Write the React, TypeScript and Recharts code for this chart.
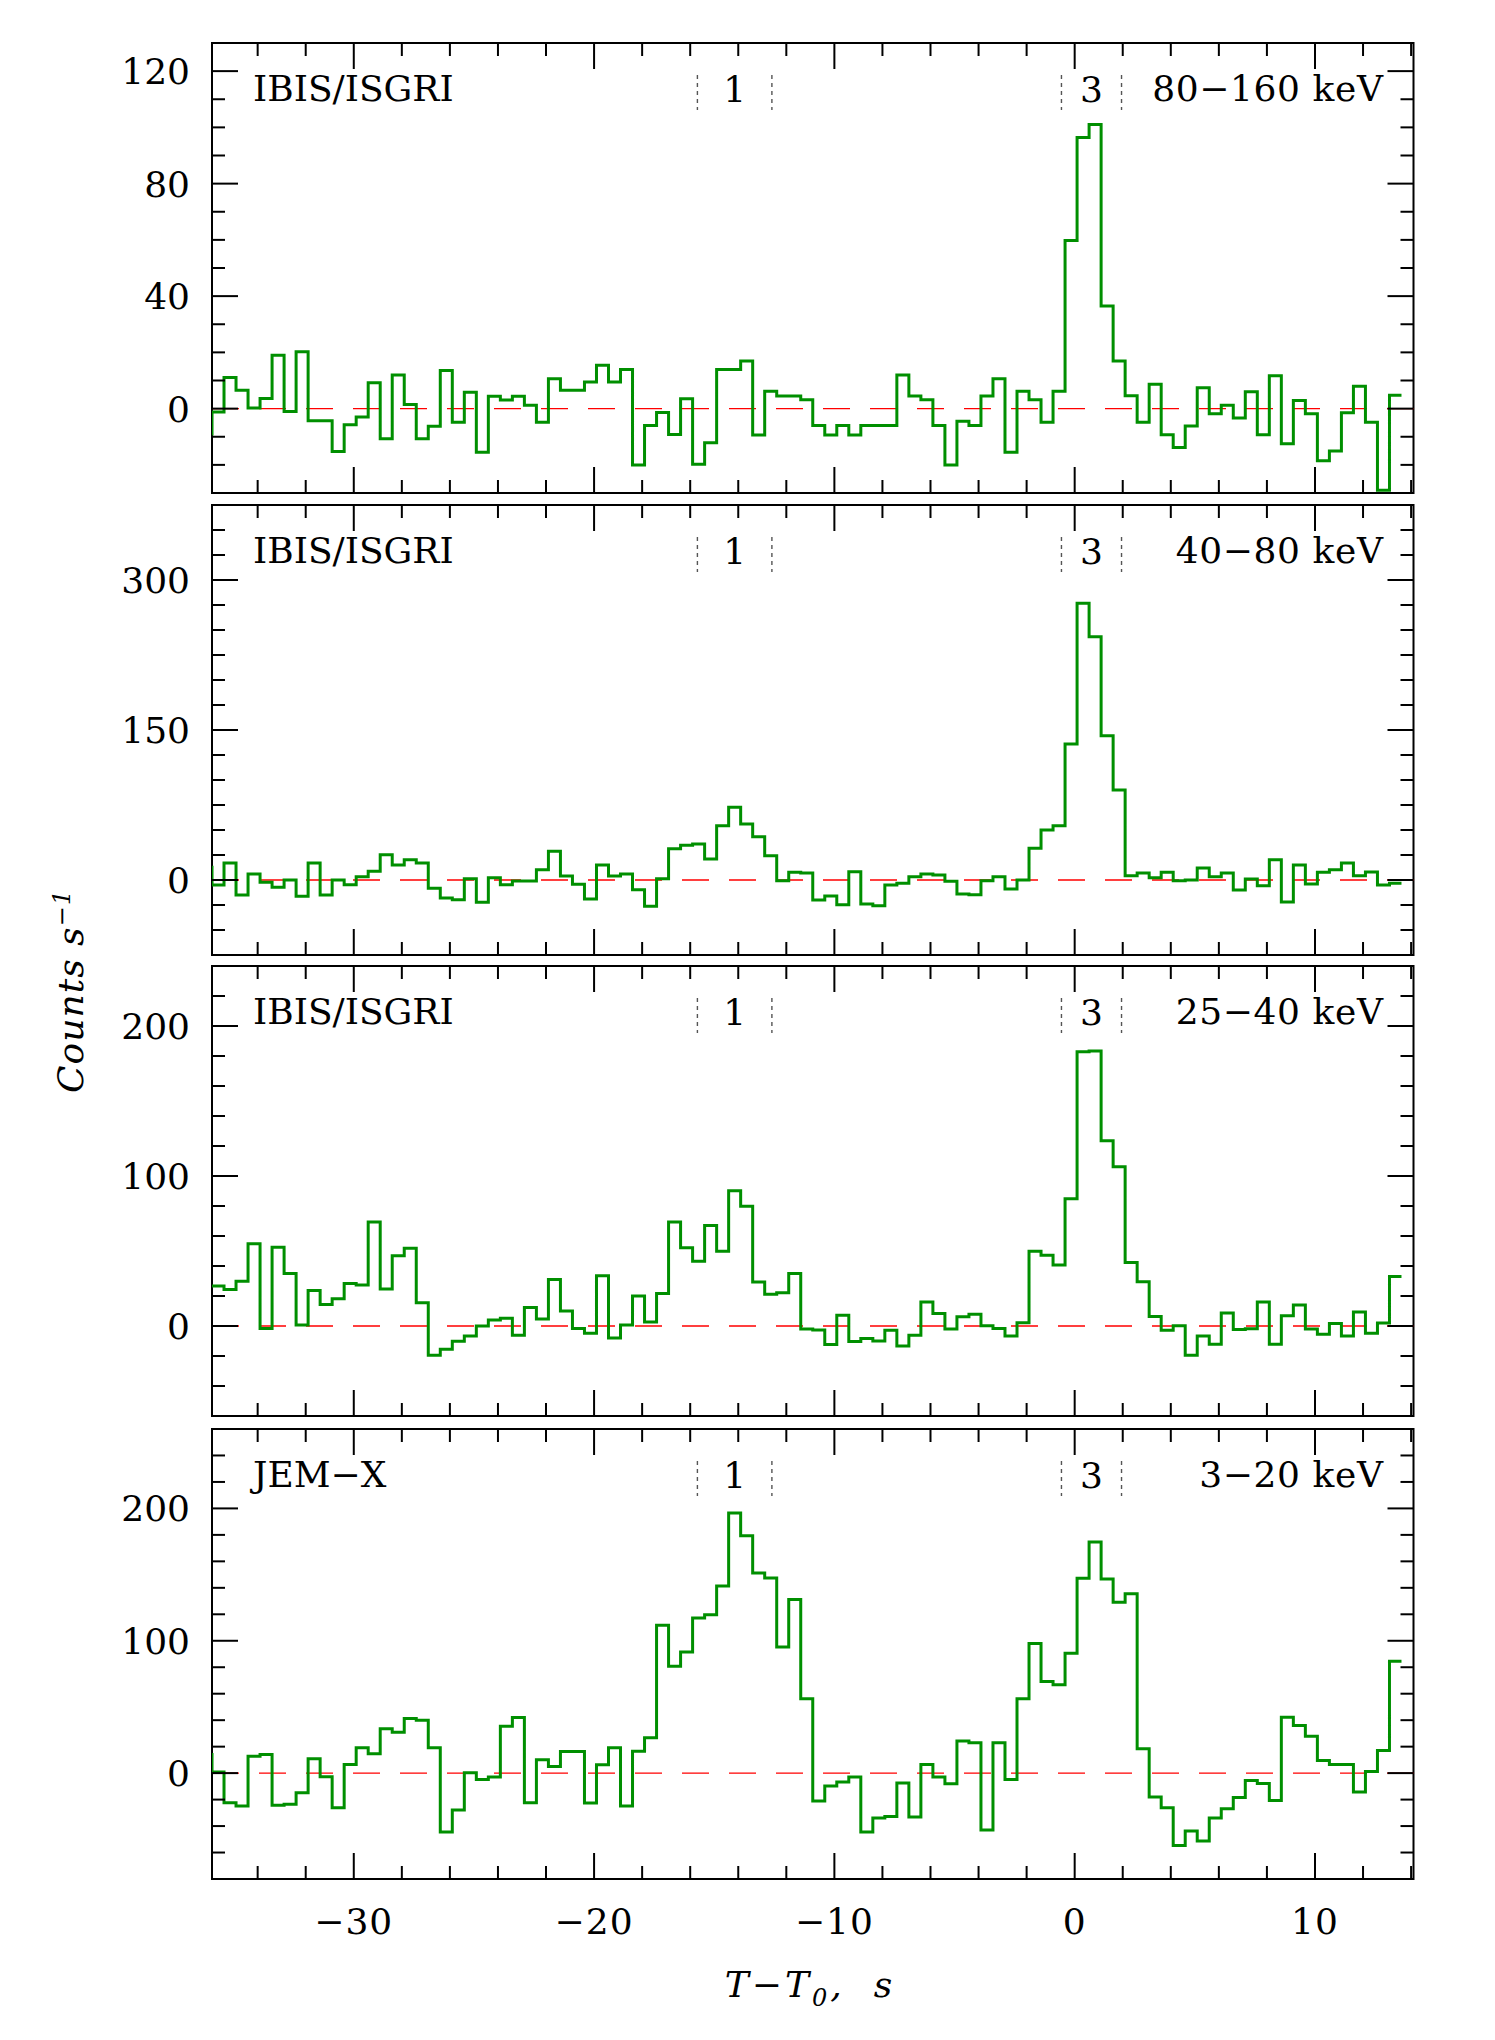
import React from 'react';
import { LineChart, Line, XAxis, YAxis, ReferenceLine, ReferenceArea } from 'recharts';

// ---------- data ----------
const BIN_START = -35.9; // left edge of first bin, s
const BIN_WIDTH = 0.5; // s

const X_DOMAIN = [-35.9, 14.1];
const X_TICKS = [-34, -32, -30, -28, -26, -24, -22, -20, -18, -16, -14, -12, -10, -8, -6, -4, -2, 0, 2, 4, 6, 8, 10, 12, 14];
const X_MAJOR = [-30, -20, -10, 0, 10];

// IBIS/ISGRI 80-160 keV
const ibis80to160Pre = -9;
const ibis80to160 = [
  -1.2, 11.1, 6.5, 0.2, 3.6, 19, -1, 20.2, -4.3, -4.3,
  -15.2, -5.7, -3, 9.2, -10.7, 12, 1.5, -10.7, -6.3, 13.6,
  -4.8, 5.8, -15.5, 4.4, 3.1, 4.4, 1.2, -4.8, 10.6, 6.5,
  6.5, 9.5, 15.4, 9.5, 13.9, -20, -6, -1.4, -9.2, 3.5,
  -19.8, -12.1, 13.9, 13.9, 16.9, -9.4, 6.2, 4.5, 4.5, 3.2,
  -6, -9.4, -6, -9.4, -6, -6, -6, 12, 4.5, 3.2,
  -6, -20, -4.5, -6, 4.5, 10.6, -15.5, 6.2, 3.2, -4.8,
  6.2, 59.8, 96.4, 101, 36.5, 16.9, 4.6, -4.8, 8.7, -9.3,
  -13.8, -6.2, 7.4, -1.8, 1.2, -3.3, 6, -9.3, 11.7, -12.5,
  2.9, -1.8, -18.5, -15.1, -1.5, 8, -4.8, -29, 4.8,
];
const Y1_DOMAIN = [-30, 130];
const Y1_TICKS = [-20, -10, 0, 10, 20, 30, 40, 50, 60, 70, 80, 90, 100, 110, 120];
const Y1_MAJOR = [0, 40, 80, 120];

// IBIS/ISGRI 40-80 keV
const ibis40to80Pre = 12.7;
const ibis40to80 = [
  -5, 17, -15, 6, -2.3, -7.3, 0, -16.3, 17, -15,
  0, -4.7, 3.3, 8.7, 25.3, 15, 20.3, 17, -8.3, -18,
  -19.7, 1.3, -22.3, 2.3, -4.7, -1, -1, 10.3, 28.7, 4,
  -4.3, -19, 15, 4, 6, -9.7, -26.3, 1.3, 31.3, 34.7,
  36, 21, 54.3, 72.7, 56, 43.3, 24.3, -0.7, 7.7, 7,
  -20, -16, -24.7, 8.3, -24, -25.7, -5, -3.3, 3.3, 6,
  5, -1.3, -14, -14.7, -0.7, 3.3, -9, 0, 31.7, 50,
  54.3, 136, 276.7, 243.3, 144.3, 90, 4.3, 7, 2.3, 7.7,
  -0.7, 0, 12, 3.3, 7, -10, 1, -5.7, 20.3, -22,
  15, -4, 7.7, 10.3, 17, 4.3, 8, -5, -3.3,
];
const Y2_DOMAIN = [-75, 375];
const Y2_TICKS = [-50, -25, 0, 25, 50, 75, 100, 125, 150, 175, 200, 225, 250, 275, 300, 325, 350];
const Y2_MAJOR = [0, 150, 300];

// IBIS/ISGRI 25-40 keV
const ibis25to40Pre = 26.6;
const ibis25to40 = [
  26.6, 24.4, 29.9, 54.8, -1.6, 52.5, 35, 0.7, 23.7, 14.4,
  18.2, 28.4, 27.3, 69.4, 24.6, 46.8, 51.9, 15.5, -19.5, -15.5,
  -10.2, -6.7, 0, 4, 5.1, -6.2, 12.4, 4.7, 31, 10,
  -1.6, -4.9, 33.5, -8, 0.7, 20, 2.7, 21.7, 69.4, 52.1,
  43.2, 67, 49.9, 90.2, 79.8, 29.3, 21.1, 22.2, 35, -2,
  -2.7, -12.4, 7.1, -10.4, -8.4, -10, -2.9, -13.3, -6.2, 16,
  8.4, -2, 6.2, 7.8, 0.2, -1.6, -6.7, 2.2, 49.9, 47.2,
  40.6, 84.9, 182.9, 183.4, 123.5, 106.2, 42.4, 29.5, 6.4, -2.9,
  0.2, -19.5, -6.7, -12.2, 8.6, -2.4, -1.8, 16, -12.2, 6.9,
  14, -2, -5.5, 1.6, -6.7, 9.3, -4.9, 2, 33,
];
const Y3_DOMAIN = [-60, 240];
const Y3_TICKS = [-40, -20, 0, 20, 40, 60, 80, 100, 120, 140, 160, 180, 200, 220];
const Y3_MAJOR = [0, 100, 200];

// JEM-X 3-20 keV
const jemx3to20Pre = 14;
const jemx3to20 = [
  0.8, -22.4, -24.9, 12.8, 14.1, -24.2, -23.6, -14.8, 10.8, -2.8,
  -26.2, 6.5, 19.1, 14.6, 33.5, 30.9, 41.3, 40, 19.1, -44.5,
  -27.9, 0.3, -4.8, -3, 35.5, 42, -22.4, 10.1, 5, 16.4,
  16.4, -22.6, 6.3, 19.1, -24.9, 16.6, 26.7, 111.7, 80.8, 91.6,
  117.2, 119.7, 141.4, 196.5, 179.4, 151.2, 147.4, 95.3, 131.1, 56.1,
  -21.1, -9.8, -6.8, -3, -44.5, -34, -32.7, -7.5, -33.2, 6.5,
  -3, -8.1, 24.2, 22.9, -43, 22.9, -4.8, 56.1, 97.9, 69.2,
  66.7, 90.6, 147.2, 174.6, 146.7, 129.1, 135.6, 18.4, -18.1, -26.2,
  -54.6, -43.8, -51.3, -34, -26.9, -18.4, -5.5, -7.8, -20.6, 42.3,
  36, 27.9, 9.6, 6.5, 6.5, -14.3, 1.3, 17.1, 84.5,
];
const Y4_DOMAIN = [-80, 260];
const Y4_TICKS = [-60, -40, -20, 0, 20, 40, 60, 80, 100, 120, 140, 160, 180, 200, 220, 240];
const Y4_MAJOR = [0, 100, 200];

// marked time intervals
const INTERVAL_LABELS = ['1', '3'];
const INTERVAL_STARTS = [-15.7, -0.55];
const INTERVAL_ENDS = [-12.6, 1.95];

const INSTRUMENTS = ['IBIS/ISGRI', 'IBIS/ISGRI', 'IBIS/ISGRI', 'JEM\u2212X'];
const BANDS = ['80\u2212160 keV', '40\u221280 keV', '25\u221240 keV', '3\u221220 keV'];

// ---------- layout / style ----------
const PAGE_W = 1495;
const PAGE_H = 2040;
const PLOT_LEFT = 212;
const PLOT_RIGHT = 1413.5;
const PLOT_H = 450;
const PANEL_TOPS = [43.3, 504.8, 966.2, 1428.5];
const MT = 10;
const X_AXIS_H = 60;
const MB = 10;
const Y_AXIS_W = 80;
const FONT = '"DejaVu Serif", serif';
const FS = 36;
const GREEN = '#008f00';

const fmt = (v: number) => (v < 0 ? `\u2212${Math.abs(v)}` : `${v}`);

function buildSeries(pre: number, values: number[]) {
  const pts = [{ t: BIN_START - BIN_WIDTH, v: pre }];
  values.forEach((v, i) => pts.push({ t: BIN_START + i * BIN_WIDTH, v }));
  pts.push({ t: BIN_START + values.length * BIN_WIDTH, v: values[values.length - 1] });
  return pts;
}

const PANELS = [
  { data: buildSeries(ibis80to160Pre, ibis80to160), yDomain: Y1_DOMAIN, yTicks: Y1_TICKS, yMajor: Y1_MAJOR },
  { data: buildSeries(ibis40to80Pre, ibis40to80), yDomain: Y2_DOMAIN, yTicks: Y2_TICKS, yMajor: Y2_MAJOR },
  { data: buildSeries(ibis25to40Pre, ibis25to40), yDomain: Y3_DOMAIN, yTicks: Y3_TICKS, yMajor: Y3_MAJOR },
  { data: buildSeries(jemx3to20Pre, jemx3to20), yDomain: Y4_DOMAIN, yTicks: Y4_TICKS, yMajor: Y4_MAJOR },
];

const XTick = (props: any) => {
  const { x, payload, showLabel } = props;
  const v = payload.value;
  const major = X_MAJOR.includes(v);
  const len = major ? 26 : 13;
  const top = MT;
  const bottom = MT + PLOT_H;
  return (
    <g>
      <line x1={x} x2={x} y1={bottom} y2={bottom - len} stroke="#000" strokeWidth={2} />
      <line x1={x} x2={x} y1={top} y2={top + len} stroke="#000" strokeWidth={2} />
      {showLabel && major ? (
        <text x={x} y={bottom + 55} textAnchor="middle" fontFamily={FONT} fontSize={FS} fill="#000" letterSpacing={1}>
          {fmt(v)}
        </text>
      ) : null}
    </g>
  );
};

const YTick = (props: any) => {
  const { y, payload, majors } = props;
  const v = payload.value;
  const major = majors.includes(v);
  const len = major ? 26 : 13;
  return (
    <g>
      <line x1={PLOT_LEFT} x2={PLOT_LEFT + len} y1={y} y2={y} stroke="#000" strokeWidth={2} />
      <line x1={PLOT_RIGHT} x2={PLOT_RIGHT - len} y1={y} y2={y} stroke="#000" strokeWidth={2} />
      {major ? (
        <text x={190} y={y + 13} textAnchor="end" fontFamily={FONT} fontSize={FS} fill="#000">
          {fmt(v)}
        </text>
      ) : null}
    </g>
  );
};

const FrameShape = (props: any) => {
  const { x, y, width, height, instrument, band } = props;
  return (
    <g>
      <rect x={x} y={y} width={width} height={height} fill="none" stroke="#000" strokeWidth={2} />
      <text x={x + 41} y={y + 58} fontFamily={FONT} fontSize={FS} fill="#000">
        {instrument}
      </text>
      <text x={x + width - 30} y={y + 58} textAnchor="end" fontFamily={FONT} fontSize={FS} fill="#000" letterSpacing={0.6}>
        {band}
      </text>
    </g>
  );
};

const IntervalShape = (props: any) => {
  const { x, y, width, label } = props;
  return (
    <g>
      <line x1={x} x2={x} y1={y + 32} y2={y + 67} stroke="#555" strokeWidth={1.4} strokeDasharray="4 4" />
      <line x1={x + width} x2={x + width} y1={y + 32} y2={y + 67} stroke="#555" strokeWidth={1.4} strokeDasharray="4 4" />
      <text x={x + width / 2} y={y + 59} textAnchor="middle" fontFamily={FONT} fontSize={FS} fill="#000">
        {label}
      </text>
    </g>
  );
};

function Panel({ idx }: { idx: number }) {
  const p = PANELS[idx];
  const isLast = idx === PANELS.length - 1;
  const chartH = MT + PLOT_H + X_AXIS_H + MB;
  return (
    <div style={{ position: 'absolute', left: 0, top: PANEL_TOPS[idx] - MT, width: PAGE_W, height: chartH }}>
      <LineChart
        width={PAGE_W}
        height={chartH}
        data={p.data}
        margin={{ top: MT, right: PAGE_W - PLOT_RIGHT, bottom: MB, left: PLOT_LEFT - Y_AXIS_W }}
      >
        <XAxis
          type="number"
          dataKey="t"
          domain={X_DOMAIN}
          allowDataOverflow
          ticks={X_TICKS}
          interval={0}
          height={X_AXIS_H}
          axisLine={false}
          tickLine={false}
          tick={(tp: any) => <XTick {...tp} showLabel={isLast} />}
        />
        <YAxis
          type="number"
          domain={p.yDomain}
          allowDataOverflow
          ticks={p.yTicks}
          interval={0}
          width={Y_AXIS_W}
          axisLine={false}
          tickLine={false}
          tick={(tp: any) => <YTick {...tp} majors={p.yMajor} />}
        />
        <ReferenceLine y={0} stroke="#ff0000" strokeWidth={1.3} strokeDasharray="27 20" ifOverflow="visible" />
        <Line
          type="stepAfter"
          dataKey="v"
          stroke={GREEN}
          strokeWidth={3}
          dot={false}
          activeDot={false}
          isAnimationActive={false}
        />
        {INTERVAL_LABELS.map((lab, i) => (
          <ReferenceArea
            key={lab}
            x1={INTERVAL_STARTS[i]}
            x2={INTERVAL_ENDS[i]}
            y1={p.yDomain[0]}
            y2={p.yDomain[1]}
            ifOverflow="visible"
            shape={(sp: any) => <IntervalShape {...sp} label={lab} />}
          />
        ))}
        <ReferenceArea
          x1={X_DOMAIN[0]}
          x2={X_DOMAIN[1]}
          y1={p.yDomain[0]}
          y2={p.yDomain[1]}
          ifOverflow="visible"
          shape={(sp: any) => <FrameShape {...sp} instrument={INSTRUMENTS[idx]} band={BANDS[idx]} />}
        />
      </LineChart>
    </div>
  );
}

export default function App() {
  return (
    <div style={{ position: 'absolute', left: 0, top: 0, width: PAGE_W, height: PAGE_H, background: '#fff' }}>
      {PANELS.map((_, i) => (
        <Panel key={i} idx={i} />
      ))}
      <svg
        width={PAGE_W}
        height={PAGE_H}
        style={{ position: 'absolute', left: 0, top: 0, pointerEvents: 'none' }}
      >
        <text
          transform="translate(83,991) rotate(-90)"
          textAnchor="middle"
          fontFamily={FONT}
          fontSize={FS}
          fontStyle="italic"
          fill="#000"
          letterSpacing={1}
        >
          Counts s
          <tspan dy={-13} fontSize={24}>
            {'\u22121'}
          </tspan>
        </text>
        <text
          x={810}
          y={1997}
          textAnchor="middle"
          fontFamily={FONT}
          fontSize={FS}
          fontStyle="italic"
          fill="#000"
          letterSpacing={3}
          style={{ whiteSpace: 'pre' }}
        >
          T{'\u2212'}T
          <tspan dy={9} fontSize={24}>
            0
          </tspan>
          <tspan dy={-9}>{',  s'}</tspan>
        </text>
      </svg>
    </div>
  );
}
